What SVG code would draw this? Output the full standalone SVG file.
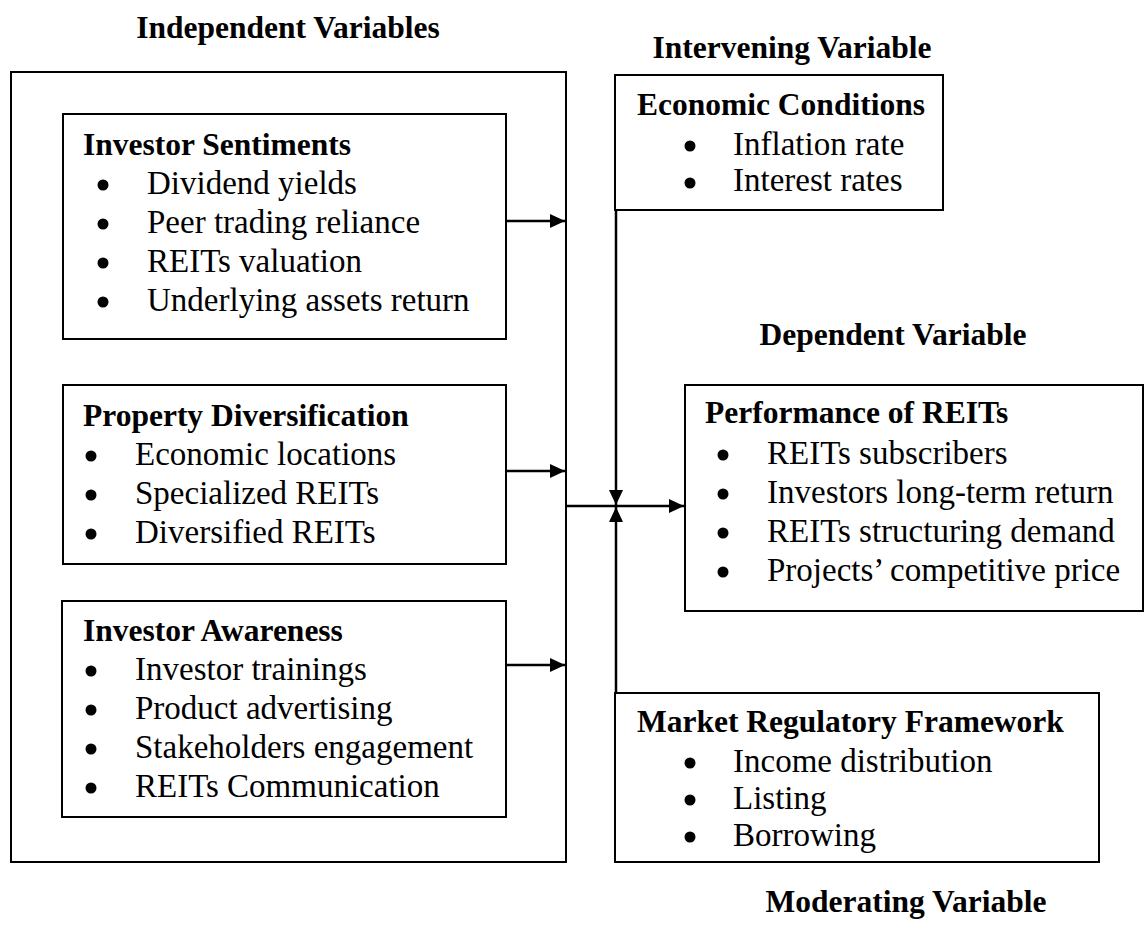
<svg xmlns="http://www.w3.org/2000/svg" width="1147" height="939" viewBox="0 0 1147 939">
  <style>
    .box{fill:none;stroke:#000;stroke-width:2}
    .h{font-family:"Liberation Serif","Times New Roman",serif;font-weight:bold;font-size:31.5px;fill:#000}
    .t{font-family:"Liberation Serif","Times New Roman",serif;font-size:33px;fill:#000}
    .c{stroke:#000;stroke-width:2.5;fill:none}
    .dot{fill:#000}
  </style>
  <defs>
    <marker id="arrow" markerUnits="userSpaceOnUse" markerWidth="16" markerHeight="16" refX="15" refY="7" orient="auto">
      <path d="M0,0 L15,7 L0,14 z" fill="#000"/>
    </marker>
  </defs>

  <rect width="1147" height="939" fill="#fff"/>

  <!-- section titles -->
  <g id="titles">
    <text class="h" x="288" y="38" text-anchor="middle">Independent Variables</text>
    <text class="h" x="792" y="58" text-anchor="middle">Intervening Variable</text>
    <text class="h" x="893" y="345" text-anchor="middle">Dependent Variable</text>
    <text class="h" x="906" y="912" text-anchor="middle">Moderating Variable</text>
  </g>

  <!-- frame around the independent variables -->
  <g id="independent-frame">
    <rect class="box" x="11" y="72" width="555" height="790"/>
  </g>

  <g id="investor-sentiments">
    <rect class="box" x="63" y="114" width="443" height="225"/>
    <text class="h" x="83" y="155">Investor Sentiments</text>
    <circle class="dot" cx="103" cy="185" r="5.5"/>
    <text class="t" x="147" y="194">Dividend yields</text>
    <circle class="dot" cx="103" cy="224" r="5.5"/>
    <text class="t" x="147" y="233">Peer trading reliance</text>
    <circle class="dot" cx="103" cy="263" r="5.5"/>
    <text class="t" x="147" y="272">REITs valuation</text>
    <circle class="dot" cx="103" cy="302" r="5.5"/>
    <text class="t" x="147" y="311">Underlying assets return</text>
  </g>

  <g id="property-diversification">
    <rect class="box" x="63" y="385" width="443" height="179"/>
    <text class="h" x="83" y="426">Property Diversification</text>
    <circle class="dot" cx="91" cy="456" r="5.5"/>
    <text class="t" x="135" y="465">Economic locations</text>
    <circle class="dot" cx="91" cy="495" r="5.5"/>
    <text class="t" x="135" y="504">Specialized REITs</text>
    <circle class="dot" cx="91" cy="534" r="5.5"/>
    <text class="t" x="135" y="543">Diversified REITs</text>
  </g>

  <g id="investor-awareness">
    <rect class="box" x="62" y="601" width="444" height="216"/>
    <text class="h" x="83" y="641">Investor Awareness</text>
    <circle class="dot" cx="91" cy="671" r="5.5"/>
    <text class="t" x="135" y="680">Investor trainings</text>
    <circle class="dot" cx="91" cy="710" r="5.5"/>
    <text class="t" x="135" y="719">Product advertising</text>
    <circle class="dot" cx="91" cy="749" r="5.5"/>
    <text class="t" x="135" y="758">Stakeholders engagement</text>
    <circle class="dot" cx="91" cy="788" r="5.5"/>
    <text class="t" x="135" y="797">REITs Communication</text>
  </g>

  <g id="economic-conditions">
    <rect class="box" x="615" y="75" width="328" height="135"/>
    <text class="h" x="637" y="115">Economic Conditions</text>
    <circle class="dot" cx="690" cy="146" r="5.5"/>
    <text class="t" x="733" y="155">Inflation rate</text>
    <circle class="dot" cx="690" cy="183" r="5.5"/>
    <text class="t" x="733" y="191">Interest rates</text>
  </g>

  <g id="performance-of-reits">
    <rect class="box" x="685" y="385" width="458" height="226"/>
    <text class="h" x="705" y="423">Performance of REITs</text>
    <circle class="dot" cx="723" cy="455" r="5.5"/>
    <text class="t" x="767" y="464">REITs subscribers</text>
    <circle class="dot" cx="723" cy="494" r="5.5"/>
    <text class="t" x="767" y="503">Investors long-term return</text>
    <circle class="dot" cx="723" cy="533" r="5.5"/>
    <text class="t" x="767" y="542">REITs structuring demand</text>
    <circle class="dot" cx="723" cy="572" r="5.5"/>
    <text class="t" x="767" y="581">Projects’ competitive price</text>
  </g>

  <g id="market-regulatory-framework">
    <rect class="box" x="615" y="693" width="484" height="169"/>
    <text class="h" x="637" y="732">Market Regulatory Framework</text>
    <circle class="dot" cx="690" cy="763" r="5.5"/>
    <text class="t" x="733" y="772">Income distribution</text>
    <circle class="dot" cx="690" cy="800" r="5.5"/>
    <text class="t" x="733" y="809">Listing</text>
    <circle class="dot" cx="690" cy="837" r="5.5"/>
    <text class="t" x="733" y="846">Borrowing</text>
  </g>

  <g id="connectors">
    <path class="c" d="M506,221 H565" marker-end="url(#arrow)"/>
    <path class="c" d="M506,471 H565" marker-end="url(#arrow)"/>
    <path class="c" d="M506,665 H565" marker-end="url(#arrow)"/>
    <path class="c" d="M566,506 H684" marker-end="url(#arrow)"/>
    <path class="c" d="M616,210 V505" marker-end="url(#arrow)"/>
    <path class="c" d="M616,693 V507" marker-end="url(#arrow)"/>
  </g>
</svg>
